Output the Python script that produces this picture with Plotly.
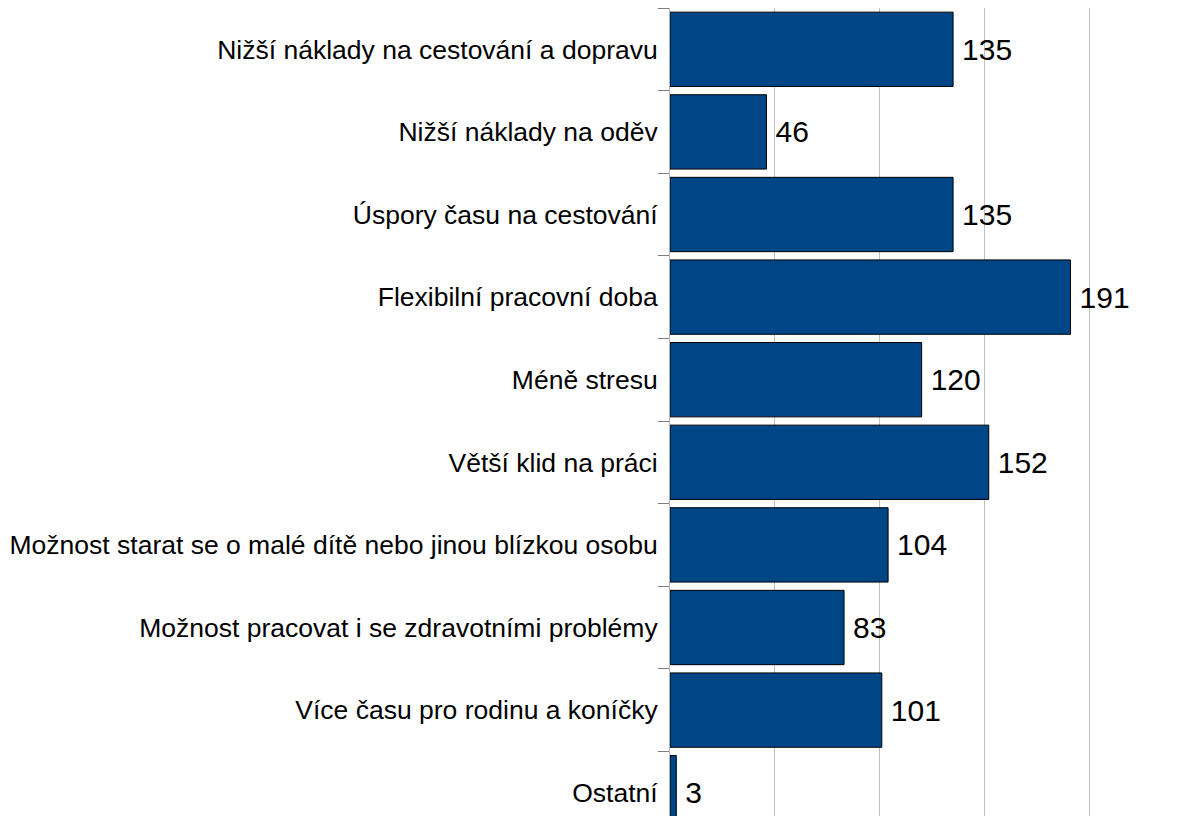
import plotly.graph_objects as go

categories = [
    "Nižší náklady na cestování a dopravu",
    "Nižší náklady na oděv",
    "Úspory času na cestování",
    "Flexibilní pracovní doba",
    "Méně stresu",
    "Větší klid na práci",
    "Možnost starat se o malé dítě nebo jinou blízkou osobu",
    "Možnost pracovat i se zdravotními problémy",
    "Více času pro rodinu a koníčky",
    "Ostatní",
]
values = [135, 46, 135, 191, 120, 152, 104, 83, 101, 3]

fig = go.Figure(
    go.Bar(
        y=categories,
        x=values,
        orientation="h",
        marker=dict(color="#004586", line=dict(color="#000000", width=1)),
        text=["\u2009" + str(v) for v in values],
        textposition="outside",
        textfont=dict(family="Liberation Sans, Arial, sans-serif", size=30, color="#000000"),
        cliponaxis=False,
    )
)

px_per_unit = 2.097
band_px = 82.6
left = 662
plot_w = 1187 - left
plot_h = 816
fig.update_layout(
    width=1187,
    height=816,
    margin=dict(l=left, r=0, t=0, b=0),
    paper_bgcolor="white",
    plot_bgcolor="white",
    bargap=0.1,
    showlegend=False,
    font=dict(family="Liberation Sans, Arial, sans-serif", color="#000000"),
    xaxis=dict(
        range=[0, plot_w / px_per_unit],
        dtick=50,
        showgrid=True,
        gridcolor="#c0c0c0",
        gridwidth=1,
        showticklabels=False,
        zeroline=False,
        showline=False,
        ticks="",
    ),
    yaxis=dict(
        type="category",
        range=[-0.5 + plot_h / band_px, -0.5],
        tickson="boundaries",
        ticks="outside",
        ticklen=11,
        tickcolor="#808080",
        tickwidth=1,
        ticklabelstandoff=6,
        showline=True,
        linecolor="#b3b3b3",
        linewidth=1,
        showgrid=False,
        tickfont=dict(family="Liberation Sans, Arial, sans-serif", size=26.5, color="#000000"),
    ),
)

fig.write_html("out.html")
